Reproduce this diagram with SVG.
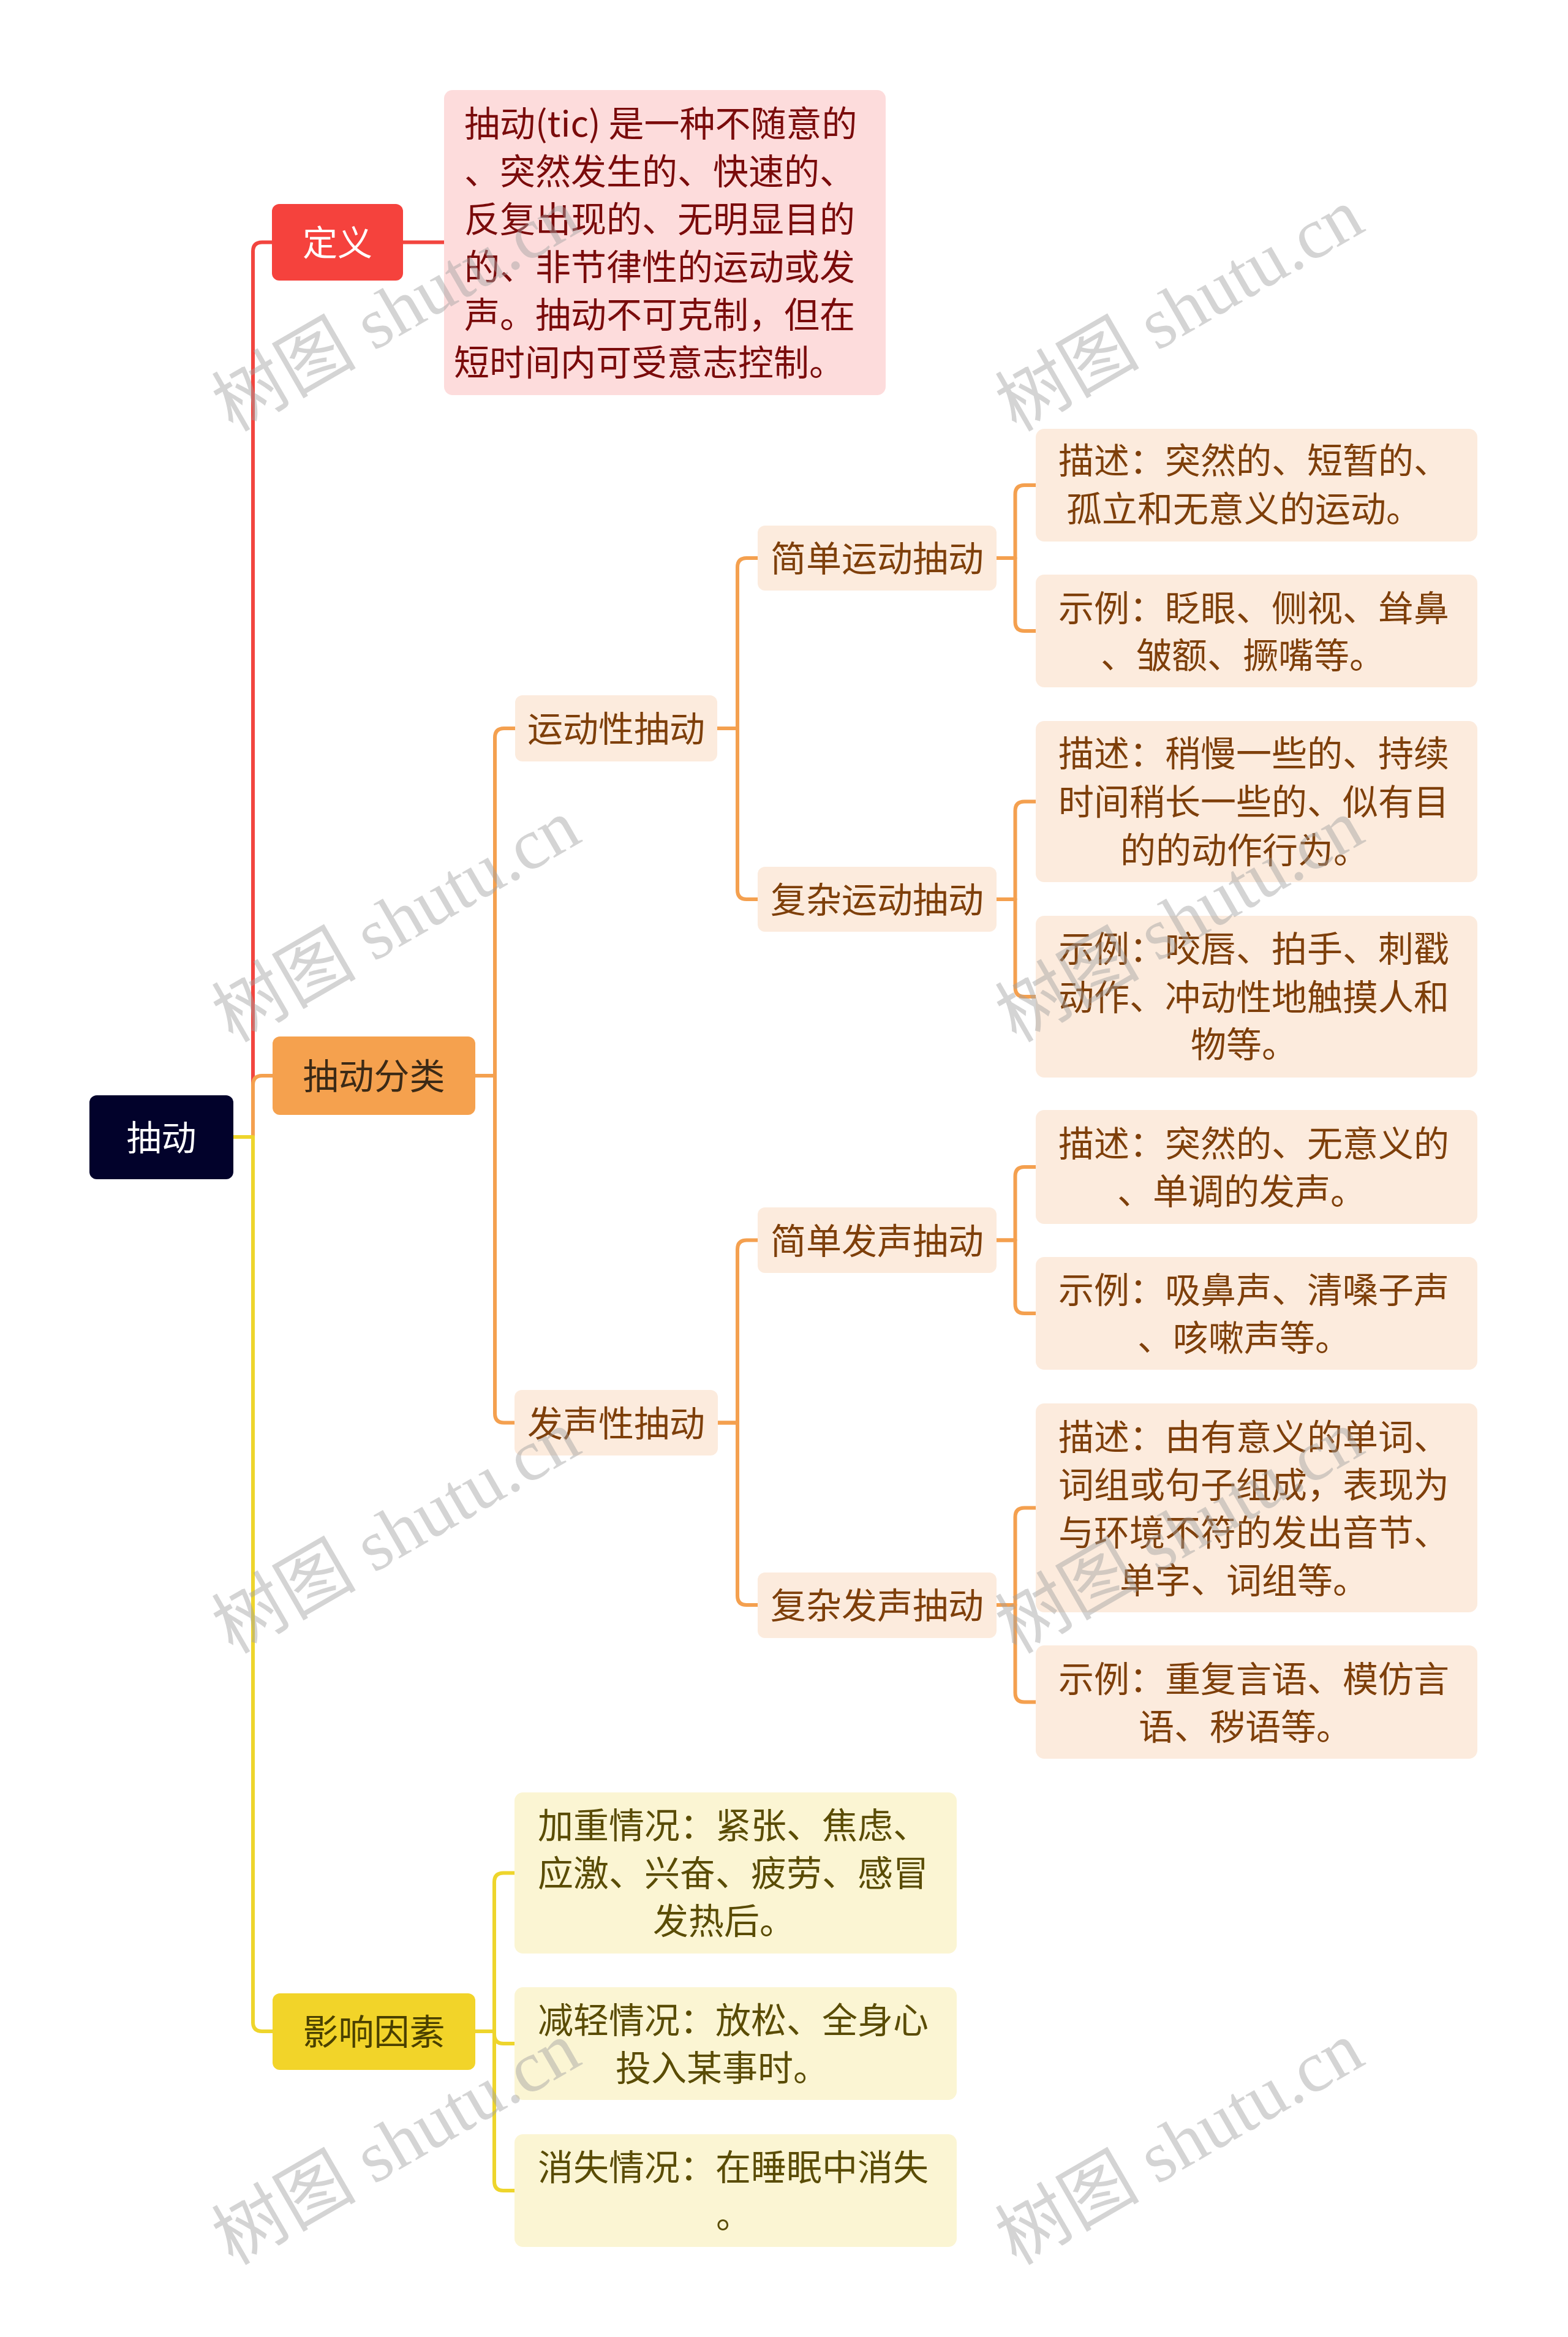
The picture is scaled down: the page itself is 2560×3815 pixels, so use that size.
<svg xmlns="http://www.w3.org/2000/svg" width="2560" height="3815" viewBox="0 0 2560 3815">
<style>
text{font-family:"Noto Sans CJK SC","Noto Sans",sans-serif;font-size:58px;}
.c{text-anchor:middle;}
.ln{fill:none;stroke-width:6;stroke-linejoin:round;stroke-linecap:butt;}
.red{stroke:#F2453F;}
.org{stroke:#F4A04F;}
.yel{stroke:#EED52C;}
.wm{font-family:"Liberation Serif","Noto Sans CJK SC",serif;font-size:118px;fill:#A0A0A0;fill-opacity:0.45;}
.t-def{fill:#7A0B0B;}
.t-l3{fill:#7E3F0A;}
.t-y{fill:#5A4C05;}
</style>
<rect width="2560" height="3815" fill="#FFFFFF"/>
<g id="connectors">
<path class="ln red" d="M381,1856 H413 V410.5 Q413,395.5 428,395.5 H444"/>
<path class="ln red" d="M658,395.5 H725"/>
<path class="ln org" d="M381,1856 H413 V1771 Q413,1756 428,1756 H445"/>
<path class="ln yel" d="M381,1856 H413 V3301 Q413,3316 428,3316 H445"/>
<path class="ln org" d="M776,1756 H808 V1204 Q808,1189 823,1189 H841"/>
<path class="ln org" d="M776,1756 H808 V2307.5 Q808,2322.5 823,2322.5 H840"/>
<path class="ln org" d="M1171,1189 H1204 V926 Q1204,911 1219,911 H1237"/>
<path class="ln org" d="M1171,1189 H1204 V1453 Q1204,1468 1219,1468 H1237"/>
<path class="ln org" d="M1172,2322.5 H1204 V2039.5 Q1204,2024.5 1219,2024.5 H1237"/>
<path class="ln org" d="M1172,2322.5 H1204 V2605 Q1204,2620 1219,2620 H1237"/>
<path class="ln org" d="M1627,911 H1657.5 V807 Q1657.5,792 1672.5,792 H1691"/>
<path class="ln org" d="M1627,911 H1657.5 V1015 Q1657.5,1030 1672.5,1030 H1691"/>
<path class="ln org" d="M1627,1468 H1657.5 V1323.5 Q1657.5,1308.5 1672.5,1308.5 H1691"/>
<path class="ln org" d="M1627,1468 H1657.5 V1612 Q1657.5,1627 1672.5,1627 H1691"/>
<path class="ln org" d="M1627,2024.5 H1657.5 V1920 Q1657.5,1905 1672.5,1905 H1691"/>
<path class="ln org" d="M1627,2024.5 H1657.5 V2129 Q1657.5,2144 1672.5,2144 H1691"/>
<path class="ln org" d="M1627,2620 H1657.5 V2476.5 Q1657.5,2461.5 1672.5,2461.5 H1691"/>
<path class="ln org" d="M1627,2620 H1657.5 V2763.5 Q1657.5,2778.5 1672.5,2778.5 H1691"/>
<path class="ln yel" d="M776,3316 H807 V3072.5 Q807,3057.5 822,3057.5 H840"/>
<path class="ln yel" d="M776,3316 H807 V3321 Q807,3336 822,3336 H840"/>
<path class="ln yel" d="M776,3316 H807 V3561 Q807,3576 822,3576 H840"/>
</g>
<g id="root">
<rect x="146" y="1788" width="235" height="137" rx="12" fill="#02022B"/>
<text class="c" x="263.5" y="1878" fill="#FFFFFF" style="font-size:57px">抽动</text>
</g>
<g id="n-def">
<rect x="444" y="333" width="214" height="125" rx="12" fill="#F5423D"/>
<text class="c" x="551" y="417" fill="#FFFFFF" style="font-size:57px">定义</text>
</g>
<g id="n-def-text">
<rect x="725" y="147" width="721" height="498" rx="14" fill="#FDDCDC"/>
<text class="t-def" x="758" y="223">抽动(tic) 是一种不随意的</text>
<text class="t-def" x="758" y="301">、突然发生的、快速的、</text>
<text class="t-def" x="758" y="379">反复出现的、无明显目的</text>
<text class="t-def" x="758" y="457">的、非节律性的运动或发</text>
<text class="t-def" x="758" y="535">声。抽动不可克制，但在</text>
<text class="t-def" x="741" y="613">短时间内可受意志控制。</text>
</g>
<g id="n-class">
<rect x="445" y="1692" width="331" height="128" rx="12" fill="#F5A14E"/>
<text class="c" x="610.5" y="1778" fill="#3C2A16">抽动分类</text>
</g>
<g id="n-factor">
<rect x="445" y="3254" width="331" height="125" rx="12" fill="#F2D429"/>
<text class="c" x="610.5" y="3338" fill="#4A4000">影响因素</text>
</g>
<g id="n-motor">
<rect x="841" y="1135" width="330" height="108" rx="12" fill="#FCEBDD"/>
<text class="c t-l3" x="1006" y="1211">运动性抽动</text>
</g>
<g id="n-vocal">
<rect x="840" y="2269" width="332" height="107" rx="12" fill="#FCEBDD"/>
<text class="c t-l3" x="1006" y="2344.5">发声性抽动</text>
</g>
<g id="n-simple-motor">
<rect x="1237" y="858" width="390" height="106" rx="12" fill="#FCEBDD"/>
<text class="c t-l3" x="1432" y="933">简单运动抽动</text>
</g>
<g id="n-complex-motor">
<rect x="1237" y="1415" width="390" height="106" rx="12" fill="#FCEBDD"/>
<text class="c t-l3" x="1432" y="1490">复杂运动抽动</text>
</g>
<g id="n-simple-vocal">
<rect x="1237" y="1971" width="390" height="107" rx="12" fill="#FCEBDD"/>
<text class="c t-l3" x="1432" y="2046.5">简单发声抽动</text>
</g>
<g id="n-complex-vocal">
<rect x="1237" y="2567" width="390" height="107" rx="12" fill="#FCEBDD"/>
<text class="c t-l3" x="1432" y="2642">复杂发声抽动</text>
</g>
<g id="leaf-sm-desc">
<rect x="1691" y="700" width="721" height="184" rx="14" fill="#FCEBDD"/>
<text class="t-l3" x="1728" y="773">描述：突然的、短暂的、</text>
<text class="t-l3" x="1741" y="852">孤立和无意义的运动。</text>
</g>
<g id="leaf-sm-ex">
<rect x="1691" y="938" width="721" height="184" rx="14" fill="#FCEBDD"/>
<text class="t-l3" x="1728" y="1014">示例：眨眼、侧视、耸鼻</text>
<text class="t-l3" x="1797" y="1091">、皱额、撅嘴等。</text>
</g>
<g id="leaf-cm-desc">
<rect x="1691" y="1177" width="721" height="263" rx="14" fill="#FCEBDD"/>
<text class="t-l3" x="1728" y="1251">描述：稍慢一些的、持续</text>
<text class="t-l3" x="1728" y="1330">时间稍长一些的、似有目</text>
<text class="t-l3" x="1829" y="1409">的的动作行为。</text>
</g>
<g id="leaf-cm-ex">
<rect x="1691" y="1495" width="721" height="264" rx="14" fill="#FCEBDD"/>
<text class="t-l3" x="1728" y="1570">示例：咬唇、拍手、刺戳</text>
<text class="t-l3" x="1728" y="1649">动作、冲动性地触摸人和</text>
<text class="t-l3" x="1944" y="1726">物等。</text>
</g>
<g id="leaf-sv-desc">
<rect x="1691" y="1812" width="721" height="186" rx="14" fill="#FCEBDD"/>
<text class="t-l3" x="1728" y="1888">描述：突然的、无意义的</text>
<text class="t-l3" x="1824" y="1966">、单调的发声。</text>
</g>
<g id="leaf-sv-ex">
<rect x="1691" y="2052" width="721" height="184" rx="14" fill="#FCEBDD"/>
<text class="t-l3" x="1728" y="2127">示例：吸鼻声、清嗓子声</text>
<text class="t-l3" x="1857" y="2205">、咳嗽声等。</text>
</g>
<g id="leaf-cv-desc">
<rect x="1691" y="2291" width="721" height="341" rx="14" fill="#FCEBDD"/>
<text class="t-l3" x="1728" y="2366.5">描述：由有意义的单词、</text>
<text class="t-l3" x="1728" y="2444.5">词组或句子组成，表现为</text>
<text class="t-l3" x="1728" y="2522.5">与环境不符的发出音节、</text>
<text class="t-l3" x="1828" y="2600.5">单字、词组等。</text>
</g>
<g id="leaf-cv-ex">
<rect x="1691" y="2686" width="721" height="185" rx="14" fill="#FCEBDD"/>
<text class="t-l3" x="1728" y="2762">示例：重复言语、模仿言</text>
<text class="t-l3" x="1859" y="2840">语、秽语等。</text>
</g>
<g id="leaf-worse">
<rect x="840" y="2926" width="722" height="263" rx="14" fill="#FBF5D3"/>
<text class="t-y" x="878" y="3001">加重情况：紧张、焦虑、</text>
<text class="t-y" x="878" y="3079">应激、兴奋、疲劳、感冒</text>
<text class="t-y" x="1066" y="3157">发热后。</text>
</g>
<g id="leaf-better">
<rect x="840" y="3244" width="722" height="184" rx="14" fill="#FBF5D3"/>
<text class="t-y" x="878" y="3319">减轻情况：放松、全身心</text>
<text class="t-y" x="1005" y="3397">投入某事时。</text>
</g>
<g id="leaf-vanish">
<rect x="840" y="3484" width="722" height="184" rx="14" fill="#FBF5D3"/>
<text class="t-y" x="878" y="3559">消失情况：在睡眠中消失</text>
<text class="t-y" x="1169" y="3637">。</text>
</g>
<g id="watermarks">
<text class="wm" transform="translate(380,706) rotate(-30)">树图 shutu.cn</text>
<text class="wm" transform="translate(1659,706) rotate(-30)">树图 shutu.cn</text>
<text class="wm" transform="translate(380,1703) rotate(-30)">树图 shutu.cn</text>
<text class="wm" transform="translate(1659,1703) rotate(-30)">树图 shutu.cn</text>
<text class="wm" transform="translate(380,2701) rotate(-30)">树图 shutu.cn</text>
<text class="wm" transform="translate(1659,2701) rotate(-30)">树图 shutu.cn</text>
<text class="wm" transform="translate(380,3699) rotate(-30)">树图 shutu.cn</text>
<text class="wm" transform="translate(1659,3699) rotate(-30)">树图 shutu.cn</text>
</g>
</svg>
